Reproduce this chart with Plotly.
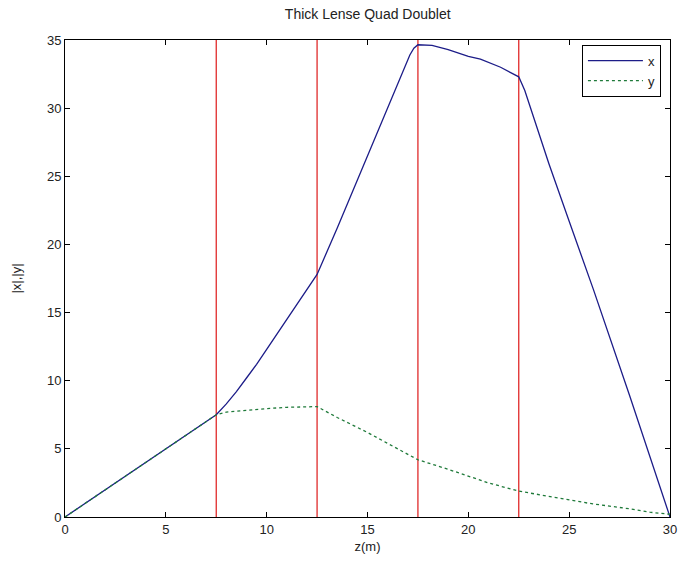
import plotly.graph_objects as go

# Beam envelope |x| along z
z_x = [0, 7.5, 8, 8.5, 9, 9.5, 10, 10.5, 11, 11.5, 12, 12.5, 13.5, 15, 16.5, 17.1, 17.3, 17.5,
       18.2, 19, 20, 20.6, 21.6, 22.5, 22.8, 23.3, 24, 25, 26.2, 28, 30]
x_env = [0, 7.5, 8.3, 9.2, 10.2, 11.2, 12.3, 13.4, 14.5, 15.6, 16.7, 17.8, 21.2, 26.5, 31.9, 33.9, 34.4, 34.65,
         34.6, 34.3, 33.8, 33.6, 33.0, 32.3, 31.3, 29.0, 25.9, 21.7, 16.7, 8.9, 0]

# Beam envelope |y| along z
z_y = [0, 7.5, 8, 9, 10, 11, 12, 12.5, 13.5, 15, 16.5, 17.5, 19, 21, 22.5, 24, 26, 28, 29, 30]
y_env = [0, 7.5, 7.7, 7.85, 7.95, 8.05, 8.1, 8.1, 7.3, 6.2, 5.0, 4.2, 3.5, 2.5, 1.9, 1.5, 1.0, 0.6, 0.35, 0.2]

# Quad edges
quad_edges = [7.5, 12.5, 17.5, 22.5]
y_range = [0, 35]

x_ticks = [0, 5, 10, 15, 20, 25, 30]
y_ticks = [0, 5, 10, 15, 20, 25, 30, 35]

fig = go.Figure()

for e in quad_edges:
    fig.add_trace(go.Scatter(x=[e, e], y=y_range, mode="lines",
                             line=dict(color="#e02a2a", width=1.3), showlegend=False,
                             hoverinfo="skip"))

fig.add_trace(go.Scatter(x=z_x, y=x_env, mode="lines", name="x",
                         line=dict(color="#1c1c88", width=1.3)))
fig.add_trace(go.Scatter(x=z_y, y=y_env, mode="lines", name="y",
                         line=dict(color="#1f7a3a", width=1.3, dash="dot")))

axis_common = dict(
    showline=True, linecolor="black", linewidth=1, mirror="ticks",
    ticks="inside", ticklen=5, tickcolor="black", showgrid=False, zeroline=False,
    automargin=False,
    tickfont=dict(family="Liberation Sans, Arial", size=13, color="#222"),
)

fig.update_layout(
    width=681, height=571,
    margin=dict(l=65, r=11, t=40, b=54),
    paper_bgcolor="white", plot_bgcolor="white",
    title=dict(text="Thick Lense Quad Doublet", x=0.54, xanchor="center",
               y=0.975, yanchor="middle", yref="container",
               font=dict(family="Liberation Sans, Arial", size=14, color="#222")),
    xaxis=dict(range=[0, 30], tickvals=x_ticks,
               title=dict(text="z(m)", standoff=6,
                          font=dict(family="Liberation Sans, Arial", size=13, color="#222")),
               **axis_common),
    yaxis=dict(range=y_range, tickvals=y_ticks,
               title=dict(text="|x|,|y|", standoff=22,
                          font=dict(family="Liberation Sans, Arial", size=13, color="#222")),
               **axis_common),
    legend=dict(x=0.985, y=0.99, xanchor="right", yanchor="top",
                bordercolor="black", borderwidth=1, bgcolor="white",
                font=dict(family="Liberation Sans, Arial", size=13, color="#222"),
                itemwidth=55, tracegroupgap=0),
    showlegend=True,
)

fig.write_html("out.html")
